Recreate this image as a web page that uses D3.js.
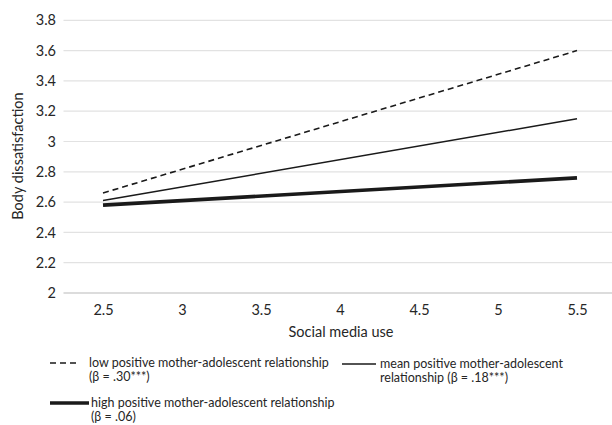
<!DOCTYPE html>
<html><head><meta charset="utf-8">
<script src="https://cdn.jsdelivr.net/npm/d3@7"></script>
<style>body{margin:0;background:#fff}svg{display:block}text{font-family:Lato,"Open Sans",sans-serif;fill:#262626}</style>
</head><body><svg id="c" width="612" height="425"></svg>
<script>
const xTicks = [2.5, 3, 3.5, 4, 4.5, 5, 5.5];
const yTicks = [2, 2.2, 2.4, 2.6, 2.8, 3, 3.2, 3.4, 3.6, 3.8];
const xValues = [2.5, 5.5];
const lowValues = [2.66, 3.60];
const meanValues = [2.61, 3.15];
const highValues = [2.58, 2.76];
const seriesNames = ["low positive mother-adolescent relationship", "mean positive mother-adolescent", "high positive mother-adolescent relationship"];
const seriesSub = ["(β = .30***)", "relationship (β = .18***)", "(β = .06)"];

const svg = d3.select("#c");
const x = d3.scaleLinear().domain([2.25, 5.75]).range([63.5, 616.5]);
const y = d3.scaleLinear().domain([2, 3.8]).range([293, 20.3]);

// gridlines
svg.append("g").selectAll("line").data(yTicks).join("line")
  .attr("x1", 63.5).attr("x2", 612).attr("y1", d => y(d)).attr("y2", d => y(d))
  .attr("stroke", d => d === 2 ? "#d0d0d0" : "#e2e2e2").attr("stroke-width", d => d === 2 ? 1.5 : 1.2);

// y axis labels
const yAxis = d3.axisLeft(y).tickValues(yTicks).tickSize(0).tickPadding(0).tickFormat(d => d3.format("")(d));
const gy = svg.append("g").attr("transform", "translate(56,0)").call(yAxis);
gy.select(".domain").remove();
gy.selectAll("text").attr("font-size", 14.5).attr("fill", "#262626").style("font-family", "Lato");

const xAxis = d3.axisBottom(x).tickValues(xTicks).tickSize(0).tickPadding(0).tickFormat(d => d3.format("")(d));
const gx = svg.append("g").attr("transform", "translate(0,305)").call(xAxis);
gx.select(".domain").remove();
gx.selectAll("text").attr("font-size", 14.5).attr("fill", "#262626").style("font-family", "Lato");

svg.append("text").attr("x", 341).attr("y", 337).attr("text-anchor", "middle").attr("font-size", 14.5).text("Social media use");
svg.append("text").attr("transform", "translate(23,156) rotate(-90)").attr("text-anchor", "middle").attr("font-size", 14.5).text("Body dissatisfaction");

const line = d3.line().x((d, i) => x(xValues[i])).y(d => y(d));
const styles = [
  {vals: lowValues, w: 1.6, dash: "6,4"},
  {vals: meanValues, w: 1.5, dash: null},
  {vals: highValues, w: 3.6, dash: null}
];
styles.forEach(s => {
  svg.append("path").attr("d", line(s.vals)).attr("fill", "none").attr("stroke", "#1a1a1a")
    .attr("stroke-width", s.w).attr("stroke-dasharray", s.dash);
});

// legend
const leg = [
  {x1: 50, x2: 80, tx: 89, ty: 363, w: 1.6, dash: "6,4"},
  {x1: 342, x2: 376, tx: 380, ty: 364, w: 1.3, dash: null},
  {x1: 50, x2: 89, tx: 91, ty: 403, w: 3.6, dash: null}
];
leg.forEach((l, i) => {
  svg.append("line").attr("x1", l.x1).attr("x2", l.x2).attr("y1", l.ty).attr("y2", l.ty)
    .attr("stroke", "#1a1a1a").attr("stroke-width", l.w).attr("stroke-dasharray", l.dash);
  svg.append("text").attr("x", l.tx).attr("y", l.ty).attr("dy", "0.35em").attr("font-size", 12.5).text(seriesNames[i]);
  svg.append("text").attr("x", l.tx).attr("y", l.ty + 14).attr("dy", "0.35em").attr("font-size", 12.5).text(seriesSub[i]);
});
</script></body></html>
